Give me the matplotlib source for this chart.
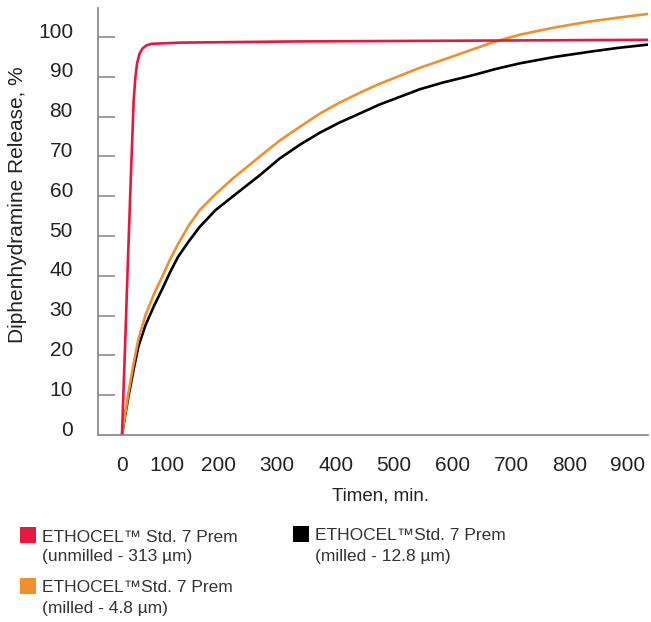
import matplotlib
matplotlib.use("Agg")
import matplotlib.pyplot as plt
import matplotlib.transforms as mtransforms
from matplotlib.patches import Rectangle

plt.rcParams['font.family'] = ['Liberation Sans', 'DejaVu Sans']

# release curves (time in min, release in %)
t_red = [0, 5, 10, 15, 20, 23, 26, 30, 35, 42, 50, 100, 300, 600, 900]
v_red = [0, 21, 43, 64, 84, 90, 93.5, 95.8, 97.1, 97.9, 98.3, 98.6, 98.9, 99.1, 99.3]

t_orange = [0, 5, 11, 20, 28, 40, 55, 68, 82, 96, 115, 133, 160, 190, 236, 270, 305,
            339, 372, 407, 440, 476, 510, 550, 600, 635, 681, 740, 800, 850, 900]
v_orange = [0, 4.8, 10.5, 18, 24, 30, 35.5, 39.5, 44, 48, 52.8, 56.5, 60.5, 64.5, 70,
            74, 77.5, 80.8, 83.5, 86, 88.2, 90.3, 92.3, 94.3, 96.9, 98.7, 100.6, 102.4,
            103.9, 104.9, 105.8]

t_black = [0, 5, 11, 20, 28, 40, 55, 68, 82, 96, 115, 133, 160, 190, 236, 270, 305,
           339, 372, 407, 440, 476, 510, 550, 600, 640, 681, 740, 800, 850, 900]
v_black = [0, 4.5, 9.6, 16.5, 22.2, 27.5, 32.5, 36.4, 40.8, 44.8, 48.8, 52.3, 56.5, 60,
           65.3, 69.5, 73, 76, 78.5, 80.8, 83, 85, 86.9, 88.6, 90.4, 92, 93.4, 95, 96.3,
           97.3, 98.1]

x_ticks = [0, 100, 200, 300, 400, 500, 600, 700, 800, 900]
y_ticks = [0, 10, 20, 30, 40, 50, 60, 70, 80, 90, 100]

legend_lines = [
    ("#E8173F", "ETHOCEL\u2122 Std. 7 Prem", "(unmilled - 313 \u00b5m)"),
    ("#F0902A", "ETHOCEL\u2122Std. 7 Prem", "(milled - 4.8 \u00b5m)"),
    ("#000000", "ETHOCEL\u2122Std. 7 Prem", "(milled - 12.8 \u00b5m)"),
]

W, H = 651, 622
fig = plt.figure(figsize=(W / 100, H / 100), dpi=100)
ax = fig.add_axes([98 / W, 1 - 435 / H, 550 / W, 427 / H])

ax.plot(t_black, v_black, color="#000000", lw=1.9, solid_joinstyle='round')
ax.plot(t_orange, v_orange, color="#F0902A", lw=1.9, solid_joinstyle='round')
ax.plot(t_red, v_red, color="#E8173F", lw=1.9, solid_joinstyle='round')

ax.set_xlim(-41, 900)
ax.set_ylim(0, 107.3)

grey = "#8c8c8c"
for s in ['top', 'right']:
    ax.spines[s].set_visible(False)
for s in ['left', 'bottom']:
    ax.spines[s].set_color(grey)
    ax.spines[s].set_linewidth(1.3)

# y ticks: inward marks, labels sitting on the tick line
ax.set_yticks(y_ticks)
ax.tick_params(axis='y', direction='in', length=12, width=1.2, color=grey,
               pad=18, labelsize=15, labelcolor="#222222")
ax.yaxis.get_major_ticks()[0].tick1line.set_visible(False)
for lab in ax.get_yticklabels():
    lab.set_transform(lab.get_transform() +
                      mtransforms.ScaledTranslation(0, 7 / 100, fig.dpi_scale_trans))

# x ticks: minor marks at the real positions, labels slightly shifted left
ax.set_xticks(x_ticks[1:], minor=True)
ax.tick_params(axis='x', which='minor', direction='in', length=12, width=1.2, color=grey)
ax.set_xticks(x_ticks)
ax.set_xticklabels([str(v) for v in x_ticks])
ax.tick_params(axis='x', which='major', length=0, pad=15, labelsize=15, labelcolor="#222222")
shifts = [0, -13] + [-20] * 8
for lab, dx in zip(ax.get_xticklabels(), shifts):
    lab.set_transform(lab.get_transform() +
                      mtransforms.ScaledTranslation(dx / 100, 0, fig.dpi_scale_trans))

ax.set_ylabel("Diphenhydramine Release, %", fontsize=15, color="#222222")
ax.yaxis.set_label_coords(-0.1455, 0.539)
ax.yaxis.label.set_va('center')
ax.set_xlabel("Timen, min.", fontsize=13.5, color="#222222")
ax.xaxis.set_label_coords(0.5145, -0.143)
ax.xaxis.label.set_va('center')

# legend drawn by hand (two columns)
spots = [(20, 535), (20, 586), (293, 534)]
for (col, l1, l2), (px, py) in zip(legend_lines, spots):
    fig.add_artist(Rectangle((px / W, 1 - (py + 8) / H), 16 / W, 16 / H,
                             transform=fig.transFigure, color=col, lw=0))
    fig.text((px + 22) / W, 1 - (py + 2) / H, l1, fontsize=12.5,
             color="#333333", va='center', ha='left')
    fig.text((px + 22) / W, 1 - (py + 22) / H, l2, fontsize=12.5,
             color="#333333", va='center', ha='left')

fig.savefig("out.png", dpi=100)
